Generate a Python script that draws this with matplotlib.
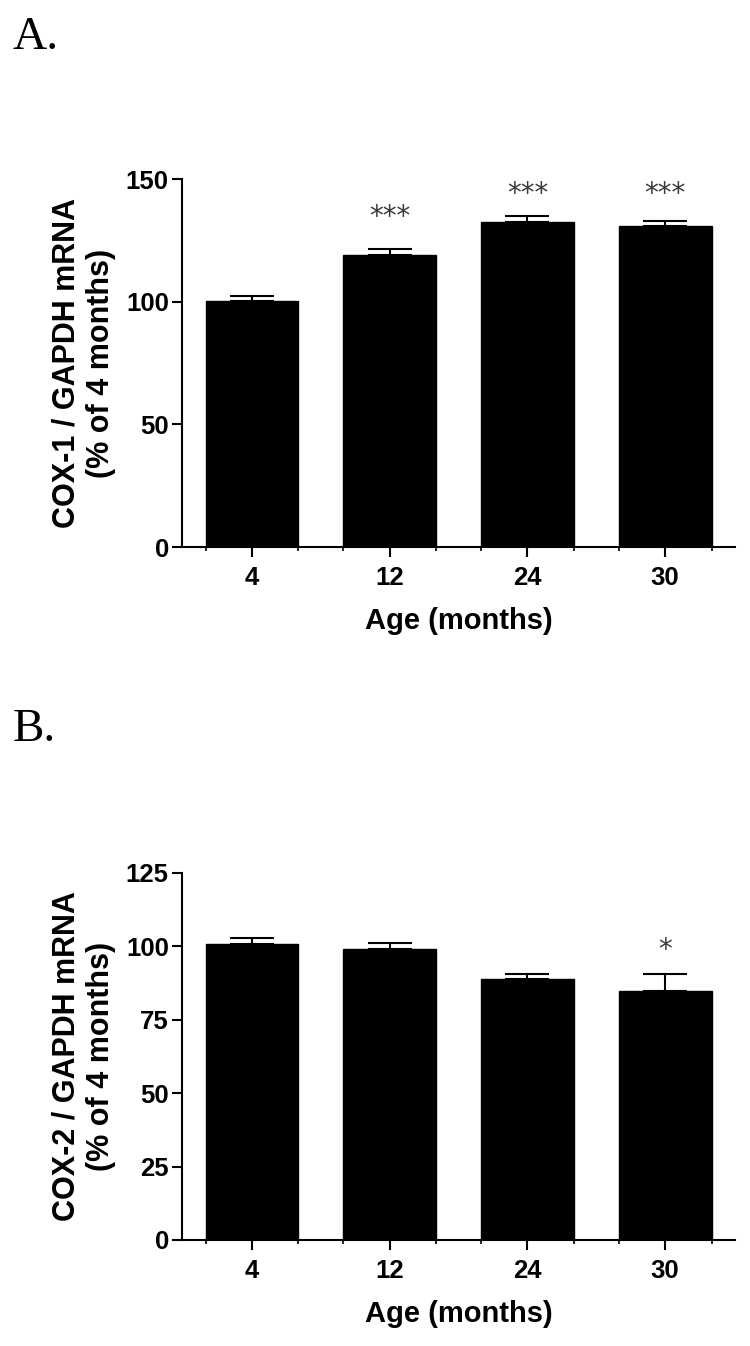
import numpy as np
import matplotlib.pyplot as plt

# --- data ---
ages = ["4", "12", "24", "30"]

cox1_mean = [100.4, 119.0, 132.6, 130.7]
cox1_sem = [1.8, 2.3, 2.4, 2.2]
cox1_stars = ["", "***", "***", "***"]
cox1_star_y = [None, 134.6, 144.0, 144.0]

cox2_mean = [100.7, 99.2, 88.7, 84.7]
cox2_sem = [2.2, 1.8, 1.8, 6.0]
cox2_stars = ["", "", "", "*"]
cox2_star_y = [None, None, None, 98.9]

SANS = ["Liberation Sans", "DejaVu Sans"]
SERIF = ["Liberation Serif", "DejaVu Serif"]

fig = plt.figure(figsize=(7.5, 13.46), dpi=100)


def bar_panel(rect, means, sems, stars, star_y, ymax, step, ylabel):
    ax = fig.add_axes(rect)
    x = np.arange(len(ages))
    w = 0.675
    ax.bar(x, means, width=w, color="black", edgecolor="black", zorder=2)
    ax.errorbar(x, means, yerr=[np.zeros(len(sems)), sems], fmt="none",
                ecolor="black", elinewidth=1.5, capsize=16, capthick=1.5, zorder=3)
    # significance marks
    for xi, s, sy in zip(x, stars, star_y):
        if s:
            ax.text(xi, sy, s, ha="center", va="center", fontsize=20,
                    color="#3a3a3a", family="DejaVu Sans")

    ax.set_xlim(-0.508, 3.508)
    ax.set_ylim(0, ymax)
    ax.set_yticks(np.arange(0, ymax + 1, step))
    ax.set_xticks(x)
    ax.set_xticklabels(ages)
    ax.set_xticks(np.concatenate([x - w / 2, x + w / 2]), minor=True)

    for side in ["top", "right"]:
        ax.spines[side].set_visible(False)
    for side in ["left", "bottom"]:
        ax.spines[side].set_linewidth(1.5)

    ax.tick_params(axis="both", which="major", length=7.5, width=1.5, labelsize=18.5)
    ax.tick_params(axis="y", which="major", pad=2)
    ax.tick_params(axis="x", which="major", pad=6.5)
    ax.tick_params(axis="x", which="minor", length=3, width=1.2)
    for lab in ax.get_xticklabels() + ax.get_yticklabels():
        lab.set_fontweight("bold")
        lab.set_family(SANS)

    ax.set_xlabel("Age (months)", fontsize=21, fontweight="bold", family=SANS, labelpad=12)
    ax.set_ylabel(ylabel, fontsize=22, fontweight="bold", family=SANS, labelpad=7,
                  linespacing=1.22)
    return ax


bar_panel([0.2427, 0.5936, 0.7373, 0.2734], cox1_mean, cox1_sem, cox1_stars,
          cox1_star_y, 150, 50, "COX-1 / GAPDH mRNA\n(% of 4 months)")
bar_panel([0.2427, 0.0788, 0.7373, 0.2727], cox2_mean, cox2_sem, cox2_stars,
          cox2_star_y, 125, 25, "COX-2 / GAPDH mRNA\n(% of 4 months)")

fig.text(0.017, 0.972, "A.", fontsize=34, family=SERIF, va="center")
fig.text(0.017, 0.458, "B.", fontsize=34, family=SERIF, va="center")

fig.savefig("out.png", dpi=100, facecolor="white")
